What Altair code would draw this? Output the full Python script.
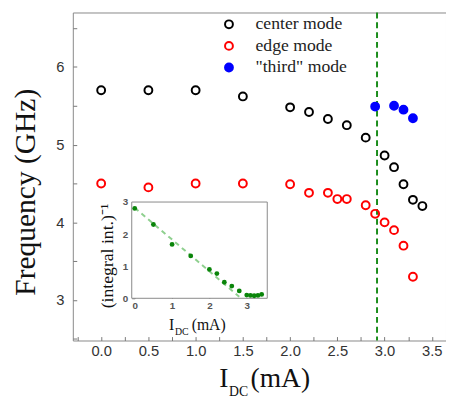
import altair as alt
import pandas as pd

# ---- main data ----
I_center = [0.0, 0.5, 1.0, 1.5, 2.0, 2.2, 2.4, 2.6, 2.8, 3.0, 3.1, 3.2, 3.3, 3.4]
f_center = [5.70, 5.70, 5.70, 5.62, 5.48, 5.42, 5.33, 5.25, 5.09, 4.86, 4.71, 4.49, 4.29, 4.21]
I_edge = [0.0, 0.5, 1.0, 1.5, 2.0, 2.2, 2.4, 2.5, 2.6, 2.8, 2.9, 3.0, 3.1, 3.2, 3.3]
f_edge = [4.50, 4.45, 4.50, 4.50, 4.49, 4.38, 4.38, 4.30, 4.30, 4.22, 4.11, 4.00, 3.90, 3.70, 3.30]
I_third = [2.9, 3.1, 3.2, 3.3]
f_third = [5.49, 5.50, 5.45, 5.34]
modes = ["center mode", "edge mode", "\"third\" mode"]
I_threshold = [2.92]

# ---- inset data ----
I_inset = [0.0, 0.5, 1.0, 1.5, 2.0, 2.2, 2.4, 2.6, 2.8, 3.0, 3.1, 3.2, 3.3, 3.4]
inv_int = [2.80, 2.30, 1.68, 1.32, 0.90, 0.77, 0.50, 0.38, 0.23, 0.10, 0.09, 0.08, 0.09, 0.12]
fit_I = [0.0, 2.8]
fit_v = [2.82, 0.05]

# ticks
x_ticks = [-0.25 + 0.25 * i for i in range(16)]
y_ticks = [2.5 + 0.5 * i for i in range(9)]

df = pd.concat([
    pd.DataFrame({"I": I_center, "f": f_center, "mode": modes[0]}),
    pd.DataFrame({"I": I_edge, "f": f_edge, "mode": modes[1]}),
    pd.DataFrame({"I": I_third, "f": f_third, "mode": modes[2]}),
])
df_thr = pd.DataFrame({"I": I_threshold})
df_in = pd.DataFrame({"I": I_inset, "v": inv_int})
df_fit = pd.DataFrame({"I": fit_I, "v": fit_v})

W, H = 380, 334
SERIF = "Liberation Serif"
SANS = "Liberation Sans"

xs = alt.Scale(domain=[-0.3, 3.65], nice=False, zero=False)
ys = alt.Scale(domain=[2.48, 6.7], nice=False, zero=False)

x_axis = alt.Axis(values=x_ticks, title=None, domain=False, grid=False,
                  offset=-4, tickSize=4, tickColor="#777", tickWidth=1,
                  labelExpr="abs(datum.value*2 - round(datum.value*2)) < 0.001 ? format(datum.value, '.1f') : ''",
                  labelFont=SANS, labelFontSize=15, labelColor="#333", labelPadding=3,
                  labelFlush=False, labelOverlap=False)
y_axis = alt.Axis(values=y_ticks, title=None, domain=False, grid=False,
                  offset=-4, tickSize=4, tickColor="#777", tickWidth=1,
                  labelExpr="abs(datum.value - round(datum.value)) < 0.001 ? format(datum.value, 'd') : ''",
                  labelFont=SANS, labelFontSize=15, labelColor="#333", labelPadding=9,
                  labelFlush=False, labelOverlap=False)

leg = dict(title=None, orient="none", legendX=150, legendY=3,
           labelFont=SERIF, labelFontSize=18, labelColor="#222",
           symbolStrokeWidth=2, rowPadding=4, labelOffset=18,
           padding=0, symbolType="circle")

vline = alt.Chart(df_thr).mark_rule(color="#1a8c1a", strokeWidth=2, strokeDash=[6, 4]).encode(
    x=alt.X("I:Q", scale=xs, axis=x_axis)
)

pts = alt.Chart(df).mark_point(shape="circle", filled=False, strokeWidth=2, opacity=1).encode(
    x=alt.X("I:Q", scale=xs, axis=x_axis),
    y=alt.Y("f:Q", scale=ys, axis=y_axis),
    color=alt.Color("mode:N", scale=alt.Scale(domain=modes, range=["#000000", "#ff0000", "#0000ff"]),
                    legend=alt.Legend(**leg)),
    fill=alt.Fill("mode:N", scale=alt.Scale(domain=modes, range=["transparent", "transparent", "#0000ff"]),
                  legend=alt.Legend(**leg)),
    size=alt.Size("mode:N", scale=alt.Scale(domain=modes, range=[64, 64, 100]),
                  legend=alt.Legend(**leg)),
)

main = alt.layer(vline, pts)

# ---- inset ----
ixs = alt.Scale(domain=[-0.08, 3.55], range=[60, 198], nice=False, zero=False)
iys = alt.Scale(domain=[0, 3], range=[291, 193], nice=False, zero=False)

ix_axis = alt.Axis(orient="bottom", values=[0, 1, 2, 3], title=None, domain=False, grid=False,
                   offset=-(H - 291) - 3, tickSize=3, tickColor="#777",
                   labelFont=SANS, labelFontSize=10, labelFontWeight="bold", labelColor="#555",
                   labelPadding=2, labelFlush=False)
iy_axis = alt.Axis(orient="left", values=[0, 1, 2, 3], title=None, domain=False, grid=False,
                   offset=-60 - 3, tickSize=3, tickColor="#777",
                   labelFont=SANS, labelFontSize=10, labelFontWeight="bold", labelColor="#555",
                   labelPadding=4, labelFlush=False)

frame = alt.Chart(pd.DataFrame({"k": [0]})).mark_rect(fill="white", stroke="#888", strokeWidth=1).encode(
    x=alt.value(60), x2=alt.value(198), y=alt.value(193), y2=alt.value(291)
)
fit = alt.Chart(df_fit).mark_line(color="#8fd08f", strokeWidth=2, strokeDash=[5, 4]).encode(
    x=alt.X("I:Q", scale=ixs, axis=ix_axis),
    y=alt.Y("v:Q", scale=iys, axis=iy_axis),
)
ipts = alt.Chart(df_in).mark_circle(color="#0a850a", size=24, opacity=1).encode(
    x=alt.X("I:Q", scale=ixs, axis=ix_axis),
    y=alt.Y("v:Q", scale=iys, axis=iy_axis),
)
inset = alt.layer(frame, fit, ipts)

# ---- titles as text ----
def txt(s, x, y, size, angle=0, align="left", baseline="alphabetic"):
    kw = dict(font=SERIF, fontSize=size, color="#111", align=align, baseline=baseline)
    if angle:
        kw["angle"] = angle
    return alt.Chart(pd.DataFrame({"t": [s]})).mark_text(**kw).encode(
        text="t:N", x=alt.value(x), y=alt.value(y)
    )

titles = [
    txt("Frequency (GHz)", -47, 183, 30, angle=270, align="center", baseline="middle"),
    txt("I", 149, 381, 28),
    txt("DC", 159, 390, 14),
    txt("(mA)", 181, 381, 28),
    txt("(integral int.)\u207b\u00b9", 36, 248, 18, angle=270, align="center", baseline="middle"),
    txt("I", 98, 323, 16),
    txt("DC", 104, 328, 10),
    txt("(mA)", 121, 323, 16),
]

chart = alt.layer(main, inset, *titles).resolve_scale(
    x="independent", y="independent"
).properties(
    width=W, height=H,
    autosize=alt.AutoSizeParams(type="none"),
    padding={"left": 66, "top": 1, "right": 0, "bottom": 58},
).configure_view(stroke="#888", strokeWidth=1)

chart.save("out.html", embed_options={"renderer": "svg", "actions": False})
